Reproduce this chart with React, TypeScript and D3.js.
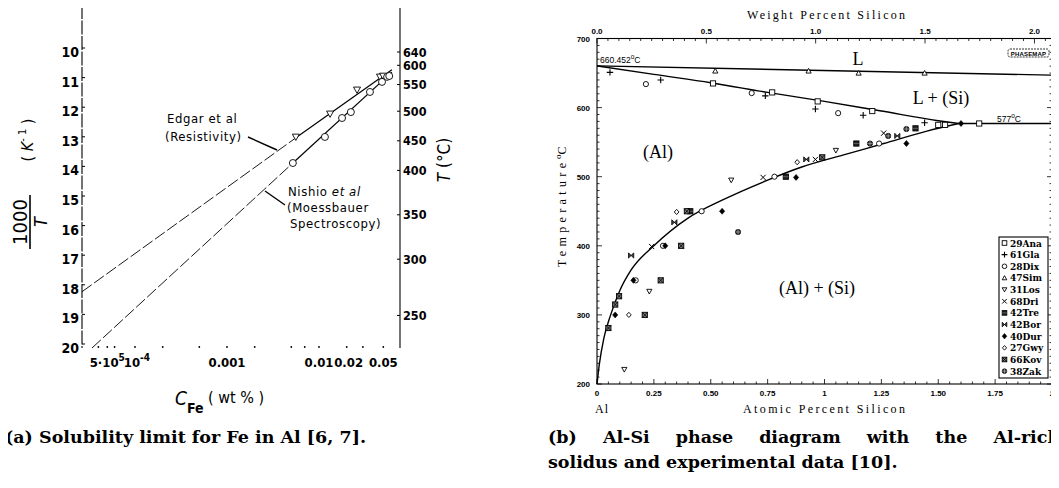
import React from "react";
import * as d3 from "d3";

const W = 1059;
const H = 488;

// ---------------- Panel (a): solubility limit of Fe in Al ----------------
const invTTicks = [10, 11, 12, 13, 14, 15, 16, 17, 18, 19, 20];
const tempLabels = ["640", "600", "550", "500", "450", "400", "350", "300", "250"];
const tempLabelPos = [10.0, 10.45, 11.1, 12.0, 13.0, 14.0, 15.5, 17.0, 18.9];
const cDots = [4e-5, 5e-5, 6e-5, 1e-4, 2e-4, 5e-4, 1e-3, 2e-3, 5e-3, 7e-3, 1e-2, 2e-2, 3e-2, 5e-2];

const edgarC = [0.0056, 0.0132, 0.0259, 0.046, 0.0497];
const edgarInvT = [12.87, 12.09, 11.28, 10.84, 10.81];
const edgarLineC = [2.65e-5, 0.0056, 0.062];
const edgarLineInvT = [18.1, 12.9, 10.6];

const nishioC = [0.0052, 0.0116, 0.0178, 0.0222, 0.0358, 0.0484, 0.055, 0.058];
const nishioInvT = [13.75, 12.87, 12.23, 12.03, 11.35, 11.01, 10.84, 10.81];
const nishioLineC = [3.41e-5, 0.0052, 0.062];
const nishioLineInvT = [20.0, 13.75, 10.68];

// ---------------- Panel (b): Al-Si phase diagram ----------------
const atTicks = [0, 0.25, 0.5, 0.75, 1, 1.25, 1.5, 1.75, 2];
const atTickLabels = ["0", "0.25", "0.50", "0.75", "1", "1.25", "1.50", "1.75", "2"];
const wtTicks = [0, 0.5, 1.0, 1.5, 2.0];
const wtTickLabels = ["0.0", "0.5", "1.0", "1.5", "2.0"];
const tempTicks = [200, 300, 400, 500, 600, 700];

const liquidusAt = [0, 2];
const liquidusT = [660.452, 647];
const solidusAt = [0, 0.25, 0.5, 0.75, 1.0, 1.25, 1.5, 1.59];
const solidusT = [660.452, 648, 636, 622, 609, 595, 581, 577];
const eutecticAt = [1.59, 2];
const eutecticT = [577, 577];
const solvusAt = [0, 0.01, 0.03, 0.06, 0.1, 0.15, 0.25, 0.4, 0.55, 0.75, 0.9, 1.1, 1.26, 1.45, 1.59];
const solvusT = [200, 228, 266, 300, 335, 365, 400, 440, 466, 495, 514, 533, 548, 566, 577];

const legendNames = ["29Ana", "61Gla", "28Dix", "47Sim", "31Los", "68Dri", "42Tre", "42Bor", "40Dur", "27Gwy", "66Kov", "38Zak"];
const legendMarks = ["sq", "plus", "circ", "tri", "tridown", "x", "sqfill", "bowtie", "diamondfill", "diamond", "sqx", "circplus"];

const anaAt = [0.51, 0.77, 0.97, 1.21, 1.5, 1.53, 1.68];
const anaT = [635, 622, 609, 595, 575, 575, 577];
const glaAt = [0.057, 0.28, 0.74, 0.96, 1.17, 1.44];
const glaT = [651, 640, 617, 598, 589, 578];
const dixAt = [0.215, 0.68, 1.06, 0.17, 0.29, 0.46, 0.78, 1.24];
const dixT = [634, 621, 592, 350, 400, 450, 500, 548];
const simAt = [0.52, 0.93, 1.15, 1.44];
const simT = [653, 653, 650, 650];
const losAt = [0.12, 0.23, 0.59, 1.05];
const losT = [221, 334, 495, 538];
const driAt = [0.24, 0.73, 0.96, 1.26];
const driT = [399, 499, 525, 563];
const treAt = [0.41, 0.83, 1.14, 1.4];
const treT = [450, 500, 548, 570];
const borAt = [0.15, 0.34, 0.92, 1.32];
const borT = [386, 434, 525, 559];
const durAt = [0.08, 0.16, 0.3, 0.55, 0.875, 1.36, 1.6];
const durT = [300, 350, 400, 450, 499, 548, 577];
const gwyAt = [0.14, 0.35, 0.88];
const gwyT = [300, 449, 521];
const kovAt = [0.05, 0.08, 0.097, 0.21, 0.28, 0.37, 0.395, 0.99];
const kovT = [281, 315, 327, 300, 350, 400, 450, 528];
const zakAt = [0.62, 1.2, 1.28, 1.36];
const zakT = [420, 548, 559, 569];

const seriesAt = [anaAt, glaAt, dixAt, simAt, losAt, driAt, treAt, borAt, durAt, gwyAt, kovAt, zakAt];
const seriesT = [anaT, glaT, dixT, simT, losT, driT, treT, borT, durT, gwyT, kovT, zakT];

function Marker({ type, x, y, s = 2.6 }: { type: string; x: number; y: number; s?: number }) {
  const k = "#000";
  switch (type) {
    case "sq":
      return <rect x={x - s} y={y - s} width={2 * s} height={2 * s} fill="#fff" stroke={k} strokeWidth={0.9} />;
    case "plus":
      return <path d={`M${x - s - 0.6},${y}H${x + s + 0.6}M${x},${y - s - 0.6}V${y + s + 0.6}`} stroke={k} strokeWidth={1.1} />;
    case "circ":
      return <circle cx={x} cy={y} r={s} fill="#fff" stroke={k} strokeWidth={0.9} />;
    case "tri":
      return <path d={`M${x},${y - s}L${x + s},${y + s * 0.8}L${x - s},${y + s * 0.8}Z`} fill="#fff" stroke={k} strokeWidth={0.9} />;
    case "tridown":
      return <path d={`M${x},${y + s}L${x + s},${y - s * 0.8}L${x - s},${y - s * 0.8}Z`} fill="#fff" stroke={k} strokeWidth={0.9} />;
    case "x":
      return <path d={`M${x - s},${y - s}L${x + s},${y + s}M${x + s},${y - s}L${x - s},${y + s}`} stroke={k} strokeWidth={1} />;
    case "sqfill":
      return (
        <g>
          <rect x={x - s} y={y - s} width={2 * s} height={2 * s} fill="#222" stroke={k} strokeWidth={0.9} />
          <path d={`M${x - s},${y}H${x + s}`} stroke="#888" strokeWidth={0.6} />
        </g>
      );
    case "bowtie":
      return <path d={`M${x - s},${y - s}L${x + s},${y + s}V${y - s}L${x - s},${y + s}Z`} fill="#444" stroke={k} strokeWidth={0.8} />;
    case "diamondfill":
      return <path d={`M${x},${y - s - 0.4}L${x + s},${y}L${x},${y + s + 0.4}L${x - s},${y}Z`} fill={k} stroke={k} strokeWidth={0.6} />;
    case "diamond":
      return <path d={`M${x},${y - s}L${x + s * 0.9},${y}L${x},${y + s}L${x - s * 0.9},${y}Z`} fill="#fff" stroke={k} strokeWidth={0.9} />;
    case "sqx":
      return (
        <g>
          <rect x={x - s} y={y - s} width={2 * s} height={2 * s} fill="#777" stroke={k} strokeWidth={0.9} />
          <path d={`M${x - s},${y - s}L${x + s},${y + s}M${x + s},${y - s}L${x - s},${y + s}`} stroke={k} strokeWidth={0.8} />
        </g>
      );
    case "circplus":
      return (
        <g>
          <circle cx={x} cy={y} r={s} fill="#333" stroke={k} strokeWidth={0.8} />
          <path d={`M${x - s},${y}H${x + s}M${x},${y - s}V${y + s}`} stroke="#bbb" strokeWidth={0.6} />
        </g>
      );
    default:
      return null;
  }
}

export default function App() {
  // ---- panel (a) scales ----
  const xA = d3.scaleLog().domain([1e-4, 1e-2]).range([135, 319]);
  const yA = d3.scaleLinear().domain([10, 20]).range([52, 348]);
  const lineA = d3.line<[number, number]>().x((d) => xA(d[0])).y((d) => yA(d[1]));
  const sansA = "'Liberation Sans Narrow', 'DejaVu Sans Condensed', 'Liberation Sans', sans-serif";

  const edgarLine = edgarLineC.map((c, i) => [c, edgarLineInvT[i]] as [number, number]);
  const nishioLine = nishioLineC.map((c, i) => [c, nishioLineInvT[i]] as [number, number]);

  // ---- panel (b) scales ----
  const xB = d3.scaleLinear().domain([0, 2]).range([597, 1052]);
  const yB = d3.scaleLinear().domain([200, 700]).range([384, 38.5]);
  const wtToAt = (w: number) => ((w / 28.0855) / (w / 28.0855 + (100 - w) / 26.9815)) * 100;
  const lineB = d3.line<[number, number]>().x((d) => xB(d[0])).y((d) => yB(d[1]));
  const smoothB = d3.line<[number, number]>().x((d) => xB(d[0])).y((d) => yB(d[1])).curve(d3.curveMonotoneX);
  const zip = (a: number[], b: number[]) => a.map((v, i) => [v, b[i]] as [number, number]);

  const x0 = xB.range()[0], x1 = xB.range()[1];
  const y0 = yB.range()[1], y1 = yB.range()[0];

  const minorAt = d3.range(0, 2.0001, 0.05);
  const minorWt = d3.range(0, 2.07, 0.05);
  const minorT = d3.range(200, 700.1, 10);

  const tickFont = "'Liberation Sans', Arial, sans-serif";
  const serif = "'Liberation Serif', 'DejaVu Serif', serif";
  const capFont = "'DejaVu Serif', 'Liberation Serif', serif";

  return (
    <svg width={W} height={H} viewBox={`0 0 ${W} ${H}`} style={{ display: "block", background: "#fff", margin: "-8px" }}>
      <rect width={W} height={H} fill="#fff" />

      {/* ======================= Panel (a) ======================= */}
      <g fontFamily={sansA} fill="#000">
        <line x1={82} x2={82} y1={5} y2={yA(20)} stroke="#000" strokeWidth={1.1} strokeDasharray="14,1.5" />
        {invTTicks.map((v) => (
          <g key={v}>
            <line x1={82} x2={85} y1={yA(v) - 4} y2={yA(v) - 4} stroke="#000" strokeWidth={1} />
            <text x={79} y={yA(v) + 5} textAnchor="end" fontSize={14} fontWeight="bold">{v}</text>
          </g>
        ))}
        <line x1={400} x2={400} y1={0} y2={yA(20)} stroke="#000" strokeWidth={1.1} />
        {tempLabels.map((t, i) => (
          <g key={t}>
            <line x1={397} x2={400} y1={yA(tempLabelPos[i])} y2={yA(tempLabelPos[i])} stroke="#000" strokeWidth={1} />
            <text x={403} y={yA(tempLabelPos[i]) + 4.5} fontSize={12.5} fontWeight="bold">{t}</text>
          </g>
        ))}
        {cDots.map((c, i) => (
          <circle key={i} cx={xA(c)} cy={yA(20) - 1} r={0.9} fill="#000" />
        ))}
        <text x={xA(5e-5)} y={367} textAnchor="middle" fontSize={13} fontWeight="bold">
          5·10<tspan dy={-6} fontSize={10}>5</tspan>
        </text>
        <text x={xA(1.05e-4)} y={367} textAnchor="middle" fontSize={13} fontWeight="bold">
          10<tspan dy={-6} fontSize={10}>-4</tspan>
        </text>
        <text x={xA(1e-3)} y={367} textAnchor="middle" fontSize={13} fontWeight="bold">0.001</text>
        <text x={xA(1e-2)} y={367} textAnchor="middle" fontSize={13} fontWeight="bold">0.01</text>
        <text x={xA(2.1e-2)} y={367} textAnchor="middle" fontSize={13} fontWeight="bold">0.02</text>
        <text x={xA(5e-2)} y={367} textAnchor="middle" fontSize={13} fontWeight="bold">0.05</text>

        <text x={175} y={405} fontSize={19}>
          <tspan fontStyle="italic">C</tspan>
          <tspan dy={8} fontSize={14} fontWeight="bold">Fe</tspan>
          <tspan dy={-10} fontSize={16}>{" ( wt % )"}</tspan>
        </text>

        <g transform="translate(30,222) rotate(-90)">
          <text x={0} y={-3} textAnchor="middle" fontSize={20}>1000</text>
          <line x1={-27} x2={27} y1={0} y2={0} stroke="#000" strokeWidth={1.6} />
          <text x={0} y={17} textAnchor="middle" fontSize={18} fontStyle="italic">T</text>
        </g>
        <g transform="translate(33,140) rotate(-90)">
          <text x={0} y={0} textAnchor="middle" fontSize={16}>
            ( <tspan fontStyle="italic">K</tspan><tspan dy={-7} fontSize={11}>- 1</tspan><tspan dy={7}> )</tspan>
          </text>
        </g>
        <g transform="translate(450,160) rotate(-90)">
          <text x={0} y={0} textAnchor="middle" fontSize={17}>
            <tspan fontStyle="italic">T</tspan> (°C)
          </text>
        </g>

        <path d={lineA(edgarLine.slice(0, 2)) || ""} fill="none" stroke="#000" strokeWidth={0.9} strokeDasharray="12,3" />
        <path d={lineA(edgarLine.slice(1)) || ""} fill="none" stroke="#000" strokeWidth={1.2} />
        <path d={lineA(nishioLine.slice(0, 2)) || ""} fill="none" stroke="#000" strokeWidth={0.9} strokeDasharray="12,3" />
        <path d={lineA(nishioLine.slice(1)) || ""} fill="none" stroke="#000" strokeWidth={1.2} />

        {edgarC.map((c, i) => (
          <Marker key={"e" + i} type="tridown" x={xA(c)} y={yA(edgarInvT[i])} s={3.5} />
        ))}
        {nishioC.map((c, i) => (
          <Marker key={"n" + i} type="circ" x={xA(c)} y={yA(nishioInvT[i])} s={3.5} />
        ))}

        <text x={167} y={123} fontSize={13} letterSpacing={0.6}>Edgar et al</text>
        <text x={165} y={141} fontSize={13} letterSpacing={0.6}>(Resistivity)</text>
        <line x1={248} x2={277} y1={137} y2={150} stroke="#000" strokeWidth={1.4} />

        <text x={288} y={196} fontSize={13} letterSpacing={0.6}>
          Nishio <tspan fontStyle="italic">et al</tspan>
        </text>
        <text x={287} y={212} fontSize={13} letterSpacing={0.6}>(Moessbauer</text>
        <text x={290} y={228} fontSize={13} letterSpacing={0.6}>Spectroscopy)</text>
        <line x1={265} x2={285} y1={191} y2={205} stroke="#000" strokeWidth={1.4} />
      </g>

      {/* ======================= Panel (b) ======================= */}
      <g>
        <rect x={x0} y={y0} width={x1 - x0} height={y1 - y0} fill="none" stroke="#000" strokeWidth={1.1} />
        {minorAt.map((v, i) => {
          const major = Math.abs(v / 0.25 - Math.round(v / 0.25)) < 1e-6;
          return <line key={"ba" + i} x1={xB(v)} x2={xB(v)} y1={y1} y2={y1 - (major ? 5 : 2.5)} stroke="#000" strokeWidth={0.8} />;
        })}
        {minorWt.map((v, i) => {
          const major = Math.abs(v / 0.5 - Math.round(v / 0.5)) < 1e-6;
          return <line key={"tw" + i} x1={xB(wtToAt(v))} x2={xB(wtToAt(v))} y1={y0} y2={y0 + (major ? 5 : 2.5)} stroke="#000" strokeWidth={0.8} />;
        })}
        {minorT.map((v, i) => {
          const major = v % 100 === 0;
          const L = major ? 5 : 2.5;
          return (
            <g key={"lt" + i}>
              <line x1={x0} x2={x0 + L} y1={yB(v)} y2={yB(v)} stroke="#000" strokeWidth={0.8} />
              <line x1={x1} x2={x1 - L} y1={yB(v)} y2={yB(v)} stroke="#000" strokeWidth={0.8} />
            </g>
          );
        })}
        <g fontFamily={tickFont} fontSize={8} fontWeight="bold">
          {atTicks.map((v, i) => (
            <text key={"bl" + i} x={xB(v)} y={396} textAnchor="middle">{atTickLabels[i]}</text>
          ))}
          {wtTicks.map((v, i) => (
            <text key={"tl" + i} x={xB(wtToAt(v))} y={34} textAnchor="middle">{wtTickLabels[i]}</text>
          ))}
          {tempTicks.map((v) => (
            <text key={"yl" + v} x={590} y={yB(v) + 3} textAnchor="end">{v}</text>
          ))}
        </g>
        <g fontFamily={serif} fontSize={12}>
          <text x={747} y={19} textLength={158} lengthAdjust="spacing">Weight Percent Silicon</text>
          <text x={743} y={413} textLength={162} lengthAdjust="spacing">Atomic Percent Silicon</text>
          <text x={595} y={413} letterSpacing={1}>Al</text>
          <g transform="translate(566,267) rotate(-90)">
            <text x={0} y={0} textLength={104} lengthAdjust="spacing">Temperature</text>
            <text x={108} y={0}>
              <tspan dy={-5} fontSize={9}>o</tspan>
              <tspan dy={5}>C</tspan>
            </text>
          </g>
        </g>

        <path d={lineB(zip(liquidusAt, liquidusT)) || ""} fill="none" stroke="#000" strokeWidth={1.4} />
        <path d={smoothB(zip(solidusAt, solidusT)) || ""} fill="none" stroke="#000" strokeWidth={1.4} />
        <path d={lineB(zip(eutecticAt, eutecticT)) || ""} fill="none" stroke="#000" strokeWidth={1.4} />
        <path d={smoothB(zip(solvusAt, solvusT)) || ""} fill="none" stroke="#000" strokeWidth={1.4} />

        {seriesAt.map((arr, si) =>
          arr.map((a, j) => <Marker key={si + "-" + j} type={legendMarks[si]} x={xB(a)} y={yB(seriesT[si][j])} />)
        )}

        <g fontFamily={serif} fontSize={18}>
          <text x={858} y={65} textAnchor="middle">L</text>
          <text x={941} y={104} textAnchor="middle">L + (Si)</text>
          <text x={658} y={158} textAnchor="middle">(Al)</text>
          <text x={817} y={294} textAnchor="middle">(Al) + (Si)</text>
        </g>
        <g fontFamily={tickFont} fontSize={8.5}>
          <text x={600} y={63}>660.452<tspan dy={-4} fontSize={6.5}>o</tspan><tspan dy={4}>C</tspan></text>
          <text x={997} y={122}>577<tspan dy={-4} fontSize={6.5}>o</tspan><tspan dy={4}>C</tspan></text>
        </g>

        <rect x={1008} y={49} width={41} height={8} rx={2} fill="#fff" stroke="#000" strokeWidth={0.8} strokeDasharray="2,1" />
        <text x={1028.5} y={55.5} textAnchor="middle" fontFamily={tickFont} fontSize={6} fontWeight="bold" letterSpacing={0.2}>PHASEMAP</text>

        <rect x={999} y={237} width={49} height={141} fill="#fff" stroke="#000" strokeWidth={1.1} />
        {legendNames.map((n, i) => (
          <g key={n}>
            <Marker type={legendMarks[i]} x={1004.5} y={243 + i * 11.65} s={2.3} />
            <text x={1010} y={246.5 + i * 11.65} fontFamily="'DejaVu Serif', serif" fontSize={9} fontWeight="bold">{n}</text>
          </g>
        ))}
      </g>

      {/* ======================= Captions ======================= */}
      <g fontFamily={capFont} fontSize={17.5} fontWeight="bold">
        <text x={5} y={443}>(a) Solubility limit for Fe in Al [6, 7].</text>
        <text x={548} y={443} wordSpacing={20}>(b) Al-Si phase diagram with the Al-rich</text>
        <text x={548} y={468}>solidus and experimental data [10].</text>
      </g>
    </svg>
  );
}
